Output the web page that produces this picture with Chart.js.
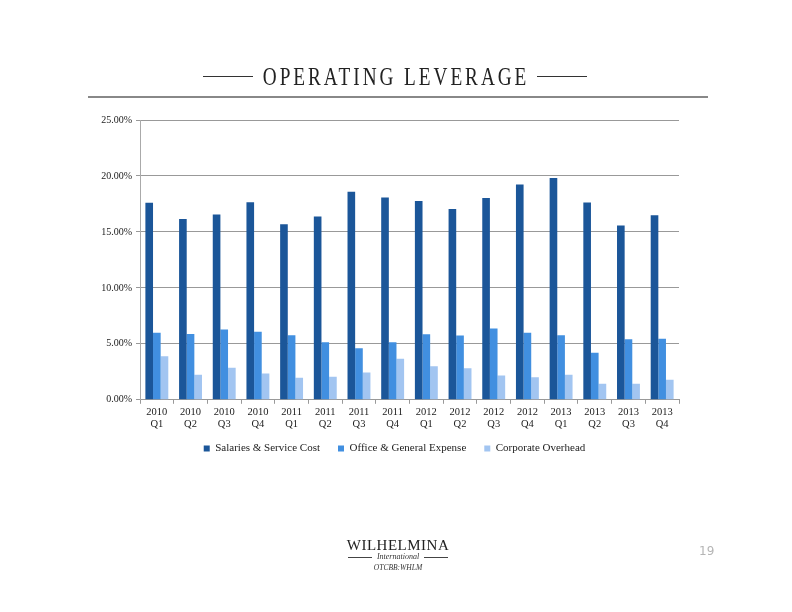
<!DOCTYPE html>
<html>
<head>
<meta charset="utf-8">
<script src="https://cdn.jsdelivr.net/npm/chart.js@4.4.0/dist/chart.umd.min.js"></script>
<style>
  html, body { margin: 0; padding: 0; background: #fff; }
  #page { position: relative; width: 792px; height: 612px; overflow: hidden; }
  #chartBox { position: absolute; left: 0; top: 0; width: 792px; height: 612px; }
  .title {
    position: absolute; left: 0; top: 60px; width: 792px; text-align: center;
    font-family: "Liberation Serif", serif; font-size: 26px; letter-spacing: 4px;
    color: #222; line-height: 34px;
  }
  .title span { display: inline-block; transform: scaleX(0.74); white-space: nowrap; }
  .tline { position: absolute; top: 76px; height: 1px; background: #333; width: 50px; }
  .rule { position: absolute; left: 88px; top: 96px; width: 620px; height: 2px; background: #888; }
  .logo1 { position: absolute; left: 0; width: 796px; top: 537px; text-align: center;
    font-family: "Liberation Serif", serif; font-size: 15px; letter-spacing: 0.5px; color: #222; }
  .logo2 { position: absolute; left: 0; width: 796px; top: 552px; text-align: center;
    font-family: "Liberation Serif", serif; font-style: italic; font-size: 8px; color: #333; }
  .logo3 { position: absolute; left: 0; width: 796px; top: 563px; text-align: center;
    font-family: "Liberation Serif", serif; font-style: italic; font-size: 7.5px; color: #333; }
  .lline { position: absolute; top: 557px; height: 1px; background: #444; width: 24px; }
  .pnum { position: absolute; left: 699px; top: 544px; font-family: "DejaVu Sans", sans-serif;
    font-size: 12px; color: #b5b5b5; }
</style>
</head>
<body>
<div id="page">
  <div id="chartBox"><canvas id="chart"></canvas></div>
  <div class="tline" style="left:203px"></div>
  <div class="tline" style="left:537px"></div>
  <div class="title"><span>OPERATING LEVERAGE</span></div>
  <div class="rule"></div>
  <div class="logo1">WILHELMINA</div>
  <div class="lline" style="left:348px"></div>
  <div class="lline" style="left:424px"></div>
  <div class="logo2">International</div>
  <div class="logo3">OTCBB:WHLM</div>
  <div class="pnum">19</div>
</div>
<script>
// Datos (porcentaje de ingresos)
const quarters = [
  ["2010", "Q1"], ["2010", "Q2"], ["2010", "Q3"], ["2010", "Q4"],
  ["2011", "Q1"], ["2011", "Q2"], ["2011", "Q3"], ["2011", "Q4"],
  ["2012", "Q1"], ["2012", "Q2"], ["2012", "Q3"], ["2012", "Q4"],
  ["2013", "Q1"], ["2013", "Q2"], ["2013", "Q3"], ["2013", "Q4"],
];
const salaries = [17.6, 16.15, 16.55, 17.65, 15.68, 16.37, 18.6, 18.07,
                  17.77, 17.05, 18.04, 19.23, 19.82, 17.62, 15.57, 16.49];
const officeGeneral = [6.0, 5.89, 6.28, 6.07, 5.77, 5.15, 4.61, 5.15,
                       5.86, 5.74, 6.37, 5.98, 5.77, 4.2, 5.42, 5.45];
const corporate = [3.9, 2.23, 2.86, 2.35, 1.96, 2.05, 2.44, 3.66,
                   3.0, 2.83, 2.17, 2.02, 2.23, 1.43, 1.43, 1.79];
const yTicks = [0, 5, 10, 15, 20, 25];

const serif = "'Liberation Serif', 'Times New Roman', serif";

// mueve la leyenda: un poco más arriba y centrada bajo la página
const legendNudge = {
  id: "legendNudge",
  afterLayout(chart) {
    const lg = chart.legend;
    if (!lg) return;
    const dy = 8, dx = 20;
    lg.top -= dy;
    lg.bottom -= dy;
    lg.left += dx;
    lg.right += dx;
    (lg.legendHitBoxes || []).forEach((b) => { b.top -= dy; b.left += dx; });
  },
};

function initChart() {
  const ctx = document.getElementById("chart").getContext("2d");
  return new Chart(ctx, {
    type: "bar",
    data: {
      labels: quarters,
      datasets: [
        { label: "Salaries & Service Cost", data: salaries, backgroundColor: "#1b5699" },
        { label: "Office & General Expense", data: officeGeneral, backgroundColor: "#418fe0" },
        { label: "Corporate Overhead", data: corporate, backgroundColor: "#a2c5f1" },
      ],
    },
    options: {
      responsive: true,
      maintainAspectRatio: false,
      animation: false,
      layout: { padding: { left: 70, right: 113, top: 120, bottom: 140 } },
      datasets: { bar: { categoryPercentage: 0.68, barPercentage: 1.0 } },
      plugins: {
        tooltip: { enabled: false },
        legend: {
          position: "bottom",
          labels: {
            color: "#222",
            font: { family: serif, size: 11 },
            boxWidth: 6,
            boxHeight: 6,
            padding: 18,
          },
        },
      },
      scales: {
        x: {
          grid: { drawOnChartArea: false, color: "#999", tickLength: 4, offset: true },
          border: { color: "#999" },
          ticks: { color: "#222", font: { family: serif, size: 10.5 }, maxRotation: 0, autoSkip: false, padding: 2 },
        },
        y: {
          min: 0,
          max: 25,
          afterFit: (axis) => { axis.width = 70; },
          afterBuildTicks: (axis) => { axis.ticks = yTicks.map((v) => ({ value: v })); },
          grid: { color: "#999", tickLength: 4 },
          border: { color: "#aaa" },
          ticks: {
            color: "#222",
            font: { family: serif, size: 10 },
            padding: 4,
            callback: (v) => v.toFixed(2) + "%",
          },
        },
      },
    },
    plugins: [legendNudge],
  });
}

initChart();
</script>
</body>
</html>
